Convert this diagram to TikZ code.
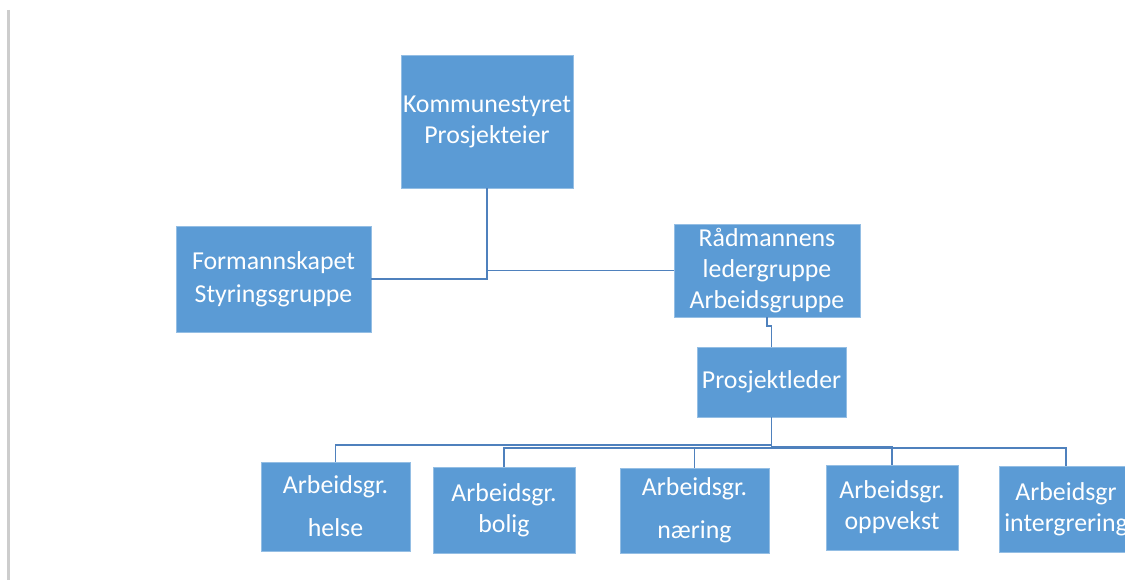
\documentclass[tikz,border=0pt]{standalone}
\usepackage{fontspec}
\setmainfont{Carlito}
\usetikzlibrary{calc,positioning}
\definecolor{boxBlue}{RGB}{91,155,213}
\definecolor{linkBlue}{RGB}{79,129,189}
\definecolor{pageLine}{RGB}{205,205,205}

\begin{document}
\begin{tikzpicture}[x=0.02cm,y=-0.02cm,
    box/.style={rectangle,fill=boxBlue,draw=white!35!boxBlue,line width=0.5pt,
      text=white,align=center,inner sep=0pt,
      font=\fontsize{14.7pt}{17.6pt}\selectfont},
    link/.style={draw=linkBlue,line width=1.1pt}]

      \path[use as bounding box,clip] (0,0) rectangle (1125,580);

      % draw the page margin
      \draw [pageLine,line width=1.2pt] (8.5,10) -- (8.5,580);

      % draw the top of the chart
      \node[box,minimum width=3.44cm,minimum height=2.66cm] (styret) at (487,121.5)
        {Kommunestyret\\Prosjekteier};
      \node[box,minimum width=3.9cm,minimum height=2.12cm] (formann) at (273.5,279)
        {Formannskapet\\[1pt]Styringsgruppe};
      \node[box,minimum width=3.72cm,minimum height=1.86cm] (raadmann) at (767,270.5)
        {Rådmannens\\ledergruppe\\Arbeidsgruppe};
      \node[box,minimum width=2.98cm,minimum height=1.4cm] (leder) at (771.5,382)
        {Prosjektleder};

      % draw the working groups
      \foreach \name/\xc/\yc/\w/\h/\txt in {
        helse/335.5/506.5/2.98/1.78/{Arbeidsgr.\\[7pt]helse},
        bolig/504/510/2.84/1.72/{Arbeidsgr.\\bolig},
        naering/694.5/510.5/2.98/1.70/{Arbeidsgr.\\[7pt]næring},
        oppvekst/892/507.5/2.64/1.70/{Arbeidsgr.\\oppvekst},
        integr/1066/509.5/2.68/1.72/{Arbeidsgr\\intergrering}}
      \node[box,minimum width=\w cm,minimum height=\h cm] (\name) at (\xc,\yc) {\txt};

      % draw the links
      \draw[link] (styret.south) |- (formann.east);
      \draw[link] (styret.south) |- (raadmann.west);
      \draw[link] (raadmann.south) |- ($(raadmann.south)!.3!(leder.north)$) -| (leder.north);
      \foreach \name in {helse,bolig,naering,oppvekst,integr}
      \draw[link] (leder.south) |- ($(leder.south)!.62!(\name.north)$) -| (\name.north);

\end{tikzpicture}
\end{document}
